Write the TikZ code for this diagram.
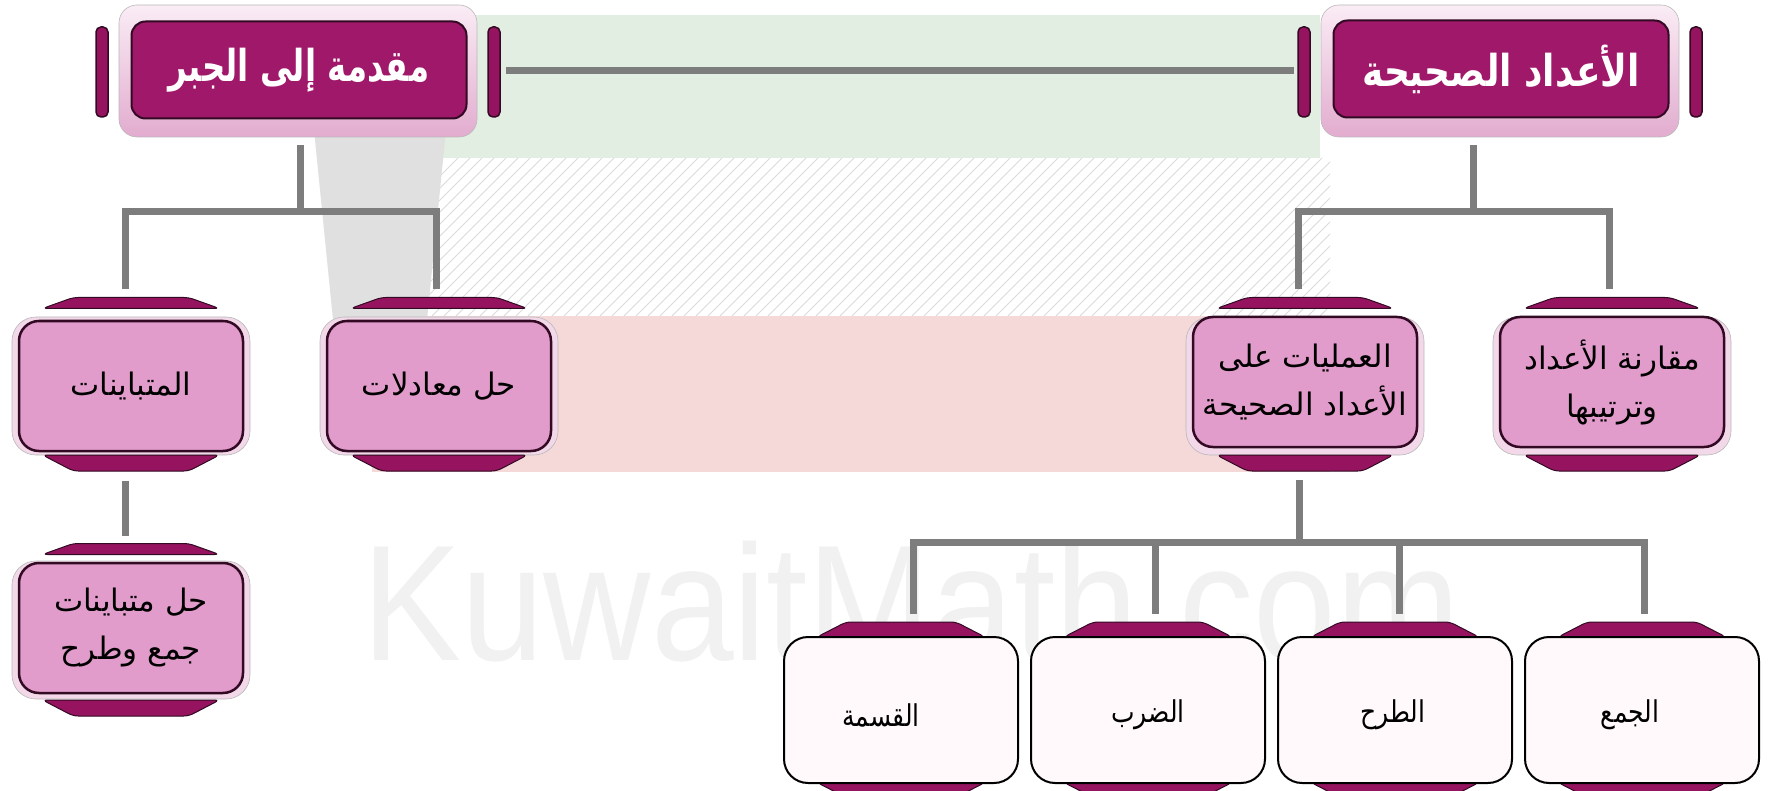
\documentclass[tikz,border=0pt]{standalone}
\usepackage{fontspec}
\usetikzlibrary{shapes.geometric,calc}
\TeXXeTstate=1
\setmainfont{Liberation Sans}
\newfontfamily\arabicfont[Script=Arabic]{DejaVu Sans}
\newcommand\rlline[1]{\beginR #1\endR}

\definecolor{tabmag}{RGB}{150,20,95}
\definecolor{headmag}{RGB}{160,24,106}
\definecolor{boxpink}{RGB}{226,156,203}
\definecolor{rimpink}{RGB}{242,216,232}
\definecolor{edge}{RGB}{50,10,35}
\definecolor{wire}{RGB}{125,125,125}
\definecolor{paper}{RGB}{255,249,252}
\definecolor{markgray}{RGB}{241,241,241}
\definecolor{flaggreen}{RGB}{226,238,226}
\definecolor{flagred}{RGB}{245,216,216}
\definecolor{flagdark}{RGB}{224,224,224}

\begin{document}
\begin{tikzpicture}[x=1pt,y=-1pt,
  conn/.style={draw=wire, line width=7},
  headrim/.style={rectangle, rounded corners=18, top color={rgb,255:red,250;green,236;blue,245},
    bottom color={rgb,255:red,226;green,172;blue,207}, draw=gray!55, line width=0.6,
    minimum width=358, minimum height=132, inner sep=0},
  headbox/.style={rectangle, rounded corners=14, fill=headmag, draw=edge, line width=2,
    minimum width=335, minimum height=97, inner sep=0, text=white,
    font={\arabicfont\bfseries\fontsize{36}{42}\selectfont}},
  sidetab/.style={rectangle, rounded corners=5, fill=tabmag, draw=edge, line width=1.5,
    minimum width=12, minimum height=90, inner sep=0},
  pinkrim/.style={rectangle, rounded corners=24, fill=rimpink, draw=gray!55, line width=0.6,
    minimum width=238, minimum height=138, inner sep=0},
  pinkbox/.style={rectangle, rounded corners=20, fill=boxpink, draw=edge, line width=2.5,
    minimum width=224, minimum height=130, inner sep=0, align=center,
    font={\arabicfont\fontsize{31}{48}\selectfont}},
  whitebox/.style={rectangle, rounded corners=24, fill=paper, draw=black, line width=2,
    minimum width=234, minimum height=146, inner sep=0},
  bottext/.style={inner sep=0, font={\arabicfont\fontsize{25}{30}\selectfont}},
  tabtop/.style={trapezium, trapezium angle=62, trapezium stretches=true, rounded corners=5,
    fill=tabmag, draw=edge, line width=1, minimum width=177, minimum height=11,
    inner xsep=2, inner ysep=1},
  tabbot/.style={tabtop, shape border rotate=180, minimum height=16},
  wtabtop/.style={tabtop, minimum width=168, minimum height=15},
]
\useasboundingbox (0,0) rectangle (1768,791);
\fill[white] (0,0) rectangle (1768,791);

% faded flag in the background
\fill[flaggreen] (430,15) rectangle (1320,158);
\fill[flagred] (372,316) rectangle (1330,472);
\begin{scope}
  \clip (372,158) rectangle (1330,316);
  \foreach \i in {0,...,85}
    \draw[gray!28, line width=0.8] (300+\i*12,316) -- ++(158,-158);
\end{scope}
\fill[flagdark] (305,40) -- (455,40) -- (425,340) -- (335,340) -- cycle;

% faded site name
\node[font=\fontsize{165}{165}\selectfont, text=markgray, anchor=base west, inner sep=0]
  (mark) at (362,660) {\scalebox{0.9}[1]{KuwaitMath.com}};

% ---- junction points ----
\coordinate (jL) at (300,212);
\coordinate (jR) at (1473,212);
\coordinate (jB) at (1299,542);

% ---- header boxes ----
\node[headrim] (T1rim) at (298,71) {};
\node[headbox] (T1) at (299,70) {\scalebox{0.9}[1.22]{\beginR مقدمة إلى الجبر\endR}};
\node[sidetab] (T1l) at (102,72) {};
\node[sidetab] (T1r) at (494,72) {};

\node[headrim] (T2rim) at (1500,71) {};
\node[headbox] (T2) at (1501,69) {\scalebox{1}[1.22]{\beginR الأعداد الصحيحة\endR}};
\node[sidetab] (T2l) at (1304,72) {};
\node[sidetab] (T2r) at (1696,72) {};

% ---- second level ----
\foreach \n/\x in {L1/131, L2/439, R1/1305, R2/1612}{
  \node[pinkrim] (\n rim) at (\x,386) {};
  \node[tabtop] (\n t) at (\x,303) {};
  \node[tabbot] (\n b) at (\x,463) {};
}
\node[pinkbox] (L1) at (131,386) {\rlline{المتباينات}};
\node[pinkbox] (L2) at (439,386) {\beginR حل معادلات\endR};
\node[pinkbox] (R1) at (1305,382) {\beginR العمليات على\endR\\\beginR الأعداد الصحيحة\endR};
\node[pinkbox] (R2) at (1612,382) {\beginR مقارنة الأعداد\endR\\\rlline{وترتيبها}};

% ---- third level, left ----
\node[pinkrim] (L3rim) at (131,630) {};
\node[tabtop] (L3t) at (131,549) {};
\node[tabbot] (L3b) at (131,708) {};
\node[pinkbox] (L3) at (131,628) {\beginR حل متباينات\endR\\\beginR جمع وطرح\endR};

% ---- third level, right ----
\foreach \n/\x/\dx/\t in {B1/901/-20/القسمة, B2/1148/0/الضرب, B3/1395/-2/الطرح, B4/1642/-12/الجمع}{
  \node[wtabtop] (\n t) at (\x,629.5) {};
  \node[wtabtop, shape border rotate=180] (\n b) at (\x,790) {};
  \node[whitebox] (\n) at (\x,710) {};
  \node[bottext] (\n text) at (\x+\dx,715) {\scalebox{1}[1.2]{\rlline{\t}}};
}

% ---- connector lines ----
\draw[conn] ($(T1r.east)+(5,-1)$) -- ($(T2l.west)+(-3,-1)$);

\draw[conn] ($(T1rim.south -| jL)+(0,8)$) -- (jL);
\draw[conn] ($(L1t.north)+(-6,-8)$) |- (jL) -| ($(L2t.north)+(-3,-8)$);

\draw[conn] ($(T2rim.south -| jR)+(0,8)$) -- (jR);
\draw[conn] ($(R1t.north)+(-7,-8)$) |- (jR) -| ($(R2t.north)+(-3,-8)$);

\draw[conn] ($(L1b.south)+(-6,9)$) -- ($(L3t.north)+(-6,-7)$);

\draw[conn] ($(R1b.south)+(-6,8)$) -- (jB);
\draw[conn] ($(B1t.north)+(12,-8)$) |- (jB) -| ($(B4t.north)+(2,-8)$);
\draw[conn] ($(B2t.north)+(7,-8)$) -- ($(B2t.north |- jB)+(7,0)$);
\draw[conn] ($(B3t.north)+(4,-8)$) -- ($(B3t.north |- jB)+(4,0)$);
\end{tikzpicture}
\end{document}
